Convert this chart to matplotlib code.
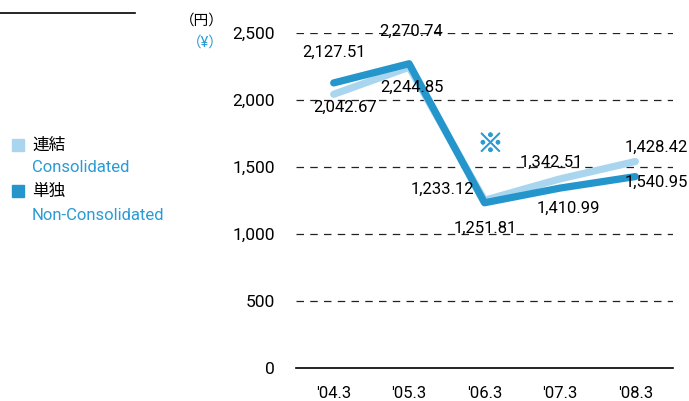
import matplotlib.pyplot as plt
import matplotlib.patheffects as pe
from matplotlib.patches import Rectangle
from matplotlib.lines import Line2D

plt.rcParams['font.family'] = ['Roboto', 'Noto Sans CJK JP', 'DejaVu Sans']

years = ["'04.3", "'05.3", "'06.3", "'07.3", "'08.3"]
consolidated = [2042.67, 2244.85, 1251.81, 1410.99, 1540.95]
non_consolidated = [2127.51, 2270.74, 1233.12, 1342.51, 1428.42]
yticks = [0, 500, 1000, 1500, 2000, 2500]

LIGHT = '#a9d6ee'
DARK = '#2596cc'
BLUE_TXT = '#2a9bd4'

# label offsets in pixels (dx, dy) relative to each point
cons_off = [(11, -13), (3, -20), (1, -28), (8, -29), (21, -21)]
non_off = [(0, 31), (2, 32), (-42, 13), (-9, 26), (21, 29)]

fig = plt.figure(figsize=(6.89, 4.01), dpi=100)
ax = fig.add_axes([296/689, 33/401, 377/689, 335/401])
x = list(range(len(years)))

ax.plot(x, consolidated, color=LIGHT, lw=5.2, solid_capstyle='round', solid_joinstyle='round', zorder=3)
ax.plot(x, non_consolidated, color=DARK, lw=5.2, solid_capstyle='round', solid_joinstyle='round', zorder=4)

ax.set_xlim(-0.5, 4.5)
ax.set_ylim(0, 2500)
ax.set_xticks(x)
ax.set_xticklabels(years, fontsize=12)
ax.set_yticks(yticks)
ax.set_yticklabels([f"{v:,}" for v in yticks], fontsize=12.5)
ax.tick_params(length=0, pad=15)
ax.tick_params(axis='x', pad=13)
for s in ['top', 'right', 'left']:
    ax.spines[s].set_visible(False)
ax.spines['bottom'].set_linewidth(1.2)
for v in yticks[1:]:
    ax.axhline(v, color='#222222', lw=0.9, ls=(0, (6, 5)), zorder=1)

for i, v in enumerate(consolidated):
    ax.annotate(f"{v:,.2f}", (i, v), xytext=cons_off[i], textcoords='offset pixels',
                ha='center', va='center', fontsize=12, zorder=5)
for i, v in enumerate(non_consolidated):
    ax.annotate(f"{v:,.2f}", (i, v), xytext=non_off[i], textcoords='offset pixels',
                ha='center', va='center', fontsize=12, zorder=5)

# note mark
ax.annotate('※', (2, non_consolidated[2]), xytext=(6, 58), textcoords='offset pixels',
            ha='center', va='center', fontsize=19, color=BLUE_TXT,
            family=['Noto Sans CJK JP'],
            path_effects=[pe.withStroke(linewidth=0.6, foreground=BLUE_TXT)])

# units
fig.text(224/689, 1 - 21/401, '（円）', ha='right', va='center', fontsize=10.5)
fig.text(224/689, 1 - 43/401, '（¥）', ha='right', va='center', fontsize=10.5, color=BLUE_TXT)

# top-left rule
fig.add_artist(Line2D([0, 135/689], [1 - 13/401, 1 - 13/401], color='black', lw=1.2))

# legend
for yy, c in [(145, LIGHT), (191, DARK)]:
    fig.add_artist(Rectangle((12/689, 1 - (yy + 6)/401), 12/689, 12/401, color=c))
fig.text(32/689, 1 - 145/401, '連結', va='center', fontsize=12)
fig.text(32/689, 1 - 168/401, 'Consolidated', va='center', fontsize=12, color=BLUE_TXT)
fig.text(32/689, 1 - 191/401, '単独', va='center', fontsize=12)
fig.text(32/689, 1 - 215/401, 'Non-Consolidated', va='center', fontsize=12, color=BLUE_TXT)

fig.savefig('out.png', dpi=100)
